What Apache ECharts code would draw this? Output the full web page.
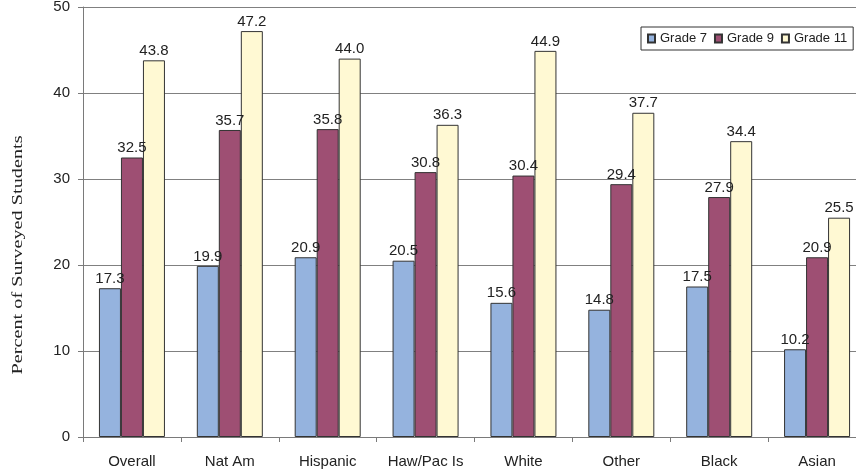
<!DOCTYPE html>
<html>
<head>
<meta charset="utf-8">
<script src="https://cdn.jsdelivr.net/npm/echarts@6/dist/echarts.min.js"></script>
<style>
html,body{margin:0;padding:0;background:#fff;}
#c{width:856px;height:474px;}
</style>
</head>
<body>
<div id="c"></div>
<script>
var categories = ['Overall', 'Nat Am', 'Hispanic', 'Haw/Pac Is', 'White', 'Other', 'Black', 'Asian'];
var grade7 = [17.3, 19.9, 20.9, 20.5, 15.6, 14.8, 17.5, 10.2];
var grade9 = [32.5, 35.7, 35.8, 30.8, 30.4, 29.4, 27.9, 20.9];
var grade11 = [43.8, 47.2, 44.0, 36.3, 44.9, 37.7, 34.4, 25.5];
var seriesNames = ['Grade 7', 'Grade 9', 'Grade 11'];
var yTicks = [0, 10, 20, 30, 40, 50];
var yTitle = 'Percent of Surveyed Students';

var colors = ['#95B3DE', '#9E4F73', '#FFF9D3'];
var font = "'Liberation Sans', Arial, sans-serif";

function mk(name, data, color) {
  return {
    name: name,
    type: 'bar',
    data: data,
    barWidth: 22,
    barGap: '0%',
    itemStyle: { color: color, borderColor: '#333', borderWidth: 1 },
    label: {
      show: true,
      position: 'top',
      distance: 2,
      color: '#222',
      fontFamily: font,
      fontSize: 15,
      formatter: function (p) { return Number(p.value).toFixed(1); }
    }
  };
}

var chart = echarts.init(document.getElementById('c'), null, { renderer: 'canvas' });
chart.setOption({
  animation: false,
  backgroundColor: '#fff',
  grid: { left: 83, top: 7, width: 783, height: 430, containLabel: false, outerBoundsMode: 'none' },
  legend: {
    data: seriesNames,
    left: 641,
    top: 27,
    orient: 'horizontal',
    itemWidth: 7,
    itemHeight: 8,
    itemGap: 7,
    padding: [5, 6, 5, 6],
    borderColor: '#333',
    borderWidth: 1,
    backgroundColor: '#fff',
    textStyle: { fontFamily: font, fontSize: 13, color: '#222' },
    icon: 'rect'
  },
  xAxis: {
    type: 'category',
    data: categories,
    axisLine: { lineStyle: { color: '#7a7a7a', width: 1 } },
    axisTick: { show: true, length: 5, lineStyle: { color: '#7a7a7a' } },
    axisLabel: { color: '#222', fontFamily: font, fontSize: 15, margin: 17, interval: 0 }
  },
  yAxis: {
    type: 'value',
    min: yTicks[0],
    max: yTicks[yTicks.length - 1],
    interval: 10,
    axisLine: { show: true, lineStyle: { color: '#7a7a7a', width: 1 } },
    axisTick: { show: true, length: 5, lineStyle: { color: '#7a7a7a' } },
    axisLabel: { color: '#222', fontFamily: font, fontSize: 15, margin: 13 },
    splitLine: { show: true, lineStyle: { color: '#808080', width: 1 } }
  },
  graphic: [{
    type: 'text',
    x: 18,
    y: 255,
    rotation: Math.PI / 2,
    scaleX: 1.35,
    style: {
      text: yTitle,
      fontFamily: "'Liberation Serif', 'Times New Roman', serif",
      fontSize: 15,
      fill: '#222',
      textAlign: 'center',
      textVerticalAlign: 'middle',
      verticalAlign: 'middle'
    }
  }],
  series: [
    mk(seriesNames[0], grade7, colors[0]),
    mk(seriesNames[1], grade9, colors[1]),
    mk(seriesNames[2], grade11, colors[2])
  ]
});
</script>
</body>
</html>
